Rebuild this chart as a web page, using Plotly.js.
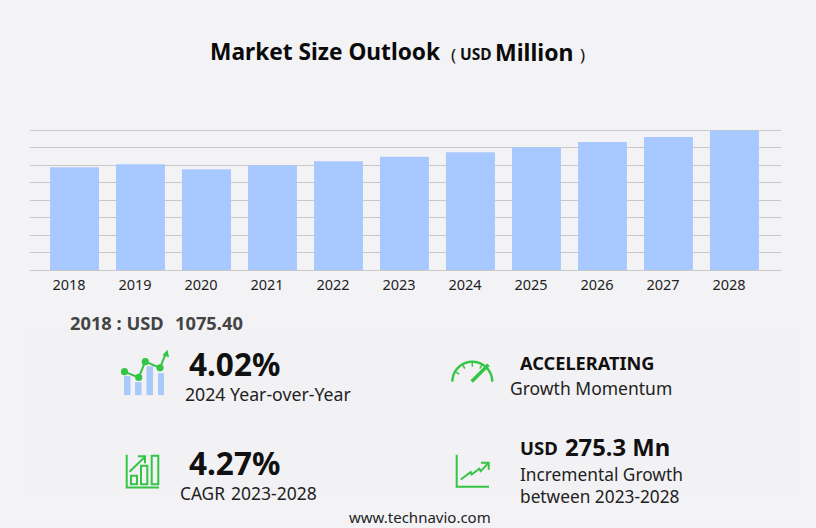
<!DOCTYPE html>
<html><head><meta charset="utf-8">
<script src="https://cdn.plot.ly/plotly-3.0.1.min.js"></script>
<style>html,body{margin:0;padding:0;background:#f3f3f6}</style></head>
<body><div id="chart" style="width:816px;height:528px"></div>
<script>
const years = [2018,2019,2020,2021,2022,2023,2024,2025,2026,2027,2028];
const yearLabels = ['2018','2019','2020','2021','2022','2023','2024','2025','2026','2027','2028'];
const marketSize = [1075.4,1106,1054,1096,1137,1183,1231,1283,1337,1390,1458.3];
const gridValues = [0,182.3,364.6,546.9,729.2,911.5,1093.8,1276.1,1458.4];
const W=816,H=528,L=30,R=35,T=129,B=257.5;
const GREEN='#35c445', FONT='"Noto Sans", sans-serif';
const px=x=>(x-L)/(W-L-R), py=y=>1-(y-T)/(H-T-B);
function path(pts,closed){return pts.map((p,i)=>(i?'L':'M')+px(p[0]).toFixed(5)+','+py(p[1]).toFixed(5)).join(' ')+(closed?' Z':'');}
function line(pts,w,color){return {type:'path',xref:'paper',yref:'paper',path:path(pts),line:{color:color||GREEN,width:w||2},fillcolor:'rgba(0,0,0,0)',layer:'above'};}
function fill(pts,color){return {type:'path',xref:'paper',yref:'paper',path:path(pts,true),line:{width:0},fillcolor:color||GREEN,layer:'above'};}
function rect(x0,y0,x1,y1,color,extra){return Object.assign({type:'rect',xref:'paper',yref:'paper',x0:px(x0),x1:px(x1),y0:py(y0),y1:py(y1),fillcolor:color,line:{width:0},layer:'above'},extra||{});}
function dot(x,y,r){return {type:'circle',xref:'paper',yref:'paper',x0:px(x-r),x1:px(x+r),y0:py(y+r),y1:py(y-r),fillcolor:GREEN,line:{width:0},layer:'above'};}
function outline(x0,y0,x1,y1){return rect(x0,y0,x1,y1,'rgba(0,0,0,0)',{line:{color:GREEN,width:2}});}
function txt(text,x,y,size,color,bold,family){return {xref:'paper',yref:'paper',x:px(x-2),y:py(y),xanchor:'left',yanchor:'middle',showarrow:false,align:'left',text:bold?'<b>'+text+'</b>':text,font:{size:size,color:color||'#111',family:family||FONT}};}
function arc(cx,cy,r,a0,a1){const p=[];for(let a=a0;a<=a1+0.01;a+=10){const t=a*Math.PI/180;p.push([cx+r*Math.cos(t),cy-r*Math.sin(t)]);}return p;}
function tick(cx,cy,r0,r1,a){const t=a*Math.PI/180;return line([[cx+r0*Math.cos(t),cy-r0*Math.sin(t)],[cx+r1*Math.cos(t),cy-r1*Math.sin(t)]],1.5);}

const shapes=[
 rect(30,330,795,495,'#f2f2f4',{layer:'below'}),
 rect(124,377,130.5,396,'#aac9fb'),rect(135,383,141.5,396,'#aac9fb'),rect(146.5,367,153,396,'#aac9fb'),rect(158,374,164,396,'#aac9fb'),
 line([[124,372.5],[138.7,378.3],[145.3,362.5],[160,368.7],[165.5,355]],2),
 dot(124.5,372.5,3.6),dot(138.7,378.3,3.6),dot(145.3,362.5,3.6),dot(160,368.7,3.6),
 fill([[167.5,350.5],[169,358],[162.5,356]]),
 line([[126.7,456],[126.7,488.7],[159,488.7]],2),
 outline(131,477,137,485.5),outline(141,467,147.3,485.5),outline(151.7,457,158.3,485.5),
 line([[129.5,473],[145,458]],2),line([[138,457.5],[145,457.5],[145,464.5]],2),
 line(arc(472.3,382.5,20,0,180),2.4),
 tick(472.3,382.5,15,19,150),tick(472.3,382.5,15,19,120),tick(472.3,382.5,15,19,90),tick(472.3,382.5,15,19,60),
 line([[471.7,382.3],[488.5,365.5]],3.5),
 line([[456.7,456],[456.7,488],[489,488]],2),
 line([[460.7,480.7],[470.7,473.3],[471.7,475.7],[479.3,470],[480.7,472.3],[488.3,464.3]],2),
 line([[481,464],[488.7,464],[488.7,471]],2)
];
const annotations=[
 txt('Market Size Outlook',210,51.5,22.7,'#0a0a0a',true),
 txt('(',451,54,17,'#111',false),
 txt('USD',460,54,15.5,'#111',true),
 txt('Million',495,51.5,23,'#0a0a0a',true),
 txt(')',580,54,17,'#111',false),
 txt('2018 : USD',70,323,18.3,'#444',true),
 txt('1075.40',175,323,18.3,'#444',true),
 txt('4.02%',189,364,31.5,'#111',true),
 txt('2024 Year-over-Year',185,394.5,17.7,'#222'),
 txt('4.27%',189,464,31.5,'#111',true),
 txt('CAGR',180,494.5,17.3,'#222'),
 txt('2023-2028',231,494.5,17.5,'#222'),
 txt('ACCELERATING',520,364,18.2,'#111',true),
 txt('Growth Momentum',510,389,17.5,'#222'),
 txt('USD',520,449,18.5,'#111',true),
 txt('275.3 Mn',565,448,23.8,'#111',true),
 txt('Incremental Growth<br>between 2023-2028',520,487,17.3,'#222'),
 txt('www.technavio.com',349,518,15,'#222')
];
Plotly.newPlot('chart',[{type:'bar',x:years,y:marketSize,marker:{color:'#a8c9ff',line:{width:0}},width:0.742,hoverinfo:'x+y'}],{
 width:W,height:H,margin:{l:L,r:R,t:T,b:B,pad:0},
 paper_bgcolor:'#f3f3f6',plot_bgcolor:'#f3f3f6',showlegend:false,
 font:{family:FONT,color:'#222'},
 xaxis:{type:'linear',range:[2018-0.674,2018+10.705],tickmode:'array',
  tickvals:years.map(y=>y-0.083),ticktext:yearLabels,
  ticks:'outside',ticklen:2,tickcolor:'rgba(0,0,0,0)',showgrid:false,showline:true,linecolor:'#c8c8c8',linewidth:1,zeroline:false,
  tickfont:{size:14.5,color:'#222',family:FONT}},
 yaxis:{range:[0,1474],tickmode:'array',tickvals:gridValues,showticklabels:false,showgrid:true,gridcolor:'#c8c8c8',gridwidth:1,zeroline:false,ticks:''},
 shapes,annotations
},{displayModeBar:false,staticPlot:true});
</script></body></html>
